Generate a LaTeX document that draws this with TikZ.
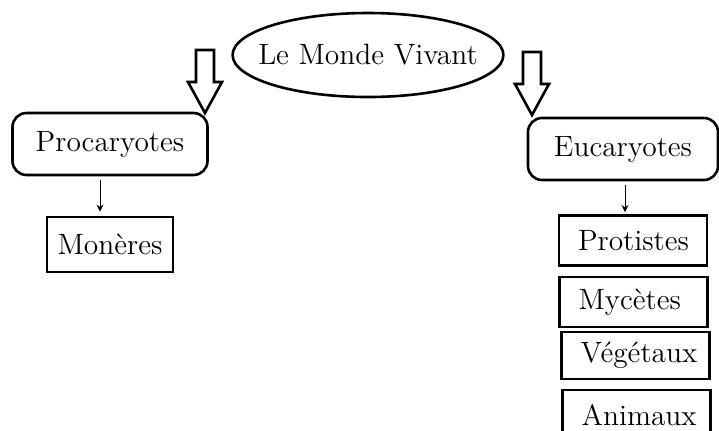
\documentclass[tikz,border=0pt]{standalone}
\usepackage{tikz}
\usetikzlibrary{positioning,arrows.meta,shapes.geometric}
\tikzset{
  txt/.style   ={font=\fontsize{14.7pt}{17pt}\selectfont},
  monde/.style ={ellipse, draw=black, line width=1.3pt, txt, inner xsep=-7pt, inner ysep=0pt,
                 minimum width=135pt, minimum height=42pt},
  domaine/.style={rectangle, rounded corners=7pt, draw=black, line width=1.3pt, txt,
                 minimum height=31pt},
  regne/.style ={rectangle, draw=black, line width=1.4pt, txt, align=left,
                 text width=55pt, inner xsep=9.5pt, minimum height=25pt},
  lnk/.style   ={-{Stealth[length=3.5pt,width=3.5pt]}, line width=0.45pt},
  pics/fleche/.style={code={
    \draw[line width=1.3pt, fill=white, line join=miter]
      (-9,-63) -- (9,-63) -- (9,-31) -- (17,-31) -- (0,0) -- (-17,-31) -- (-9,-31) -- cycle;
  }},
}

\begin{document}
\begin{tikzpicture}[x=0.5pt,y=-0.5pt]
  \clip (0,0) rectangle (719,430);
  \fill[white] (0,0) rectangle (719,430);

  % racine
  \node[monde] (vivant) at (368,55) {Le Monde Vivant};
  \pic at (205,113) {fleche};
  \pic at (532,115) {fleche};

  % les deux domaines
  \node[domaine, minimum width=97.5pt] (proc) at (110,144) {Procaryotes};
  \node[domaine, minimum width=95pt] (euc) at (623,149) {Eucaryotes};

  % procaryotes
  \node[rectangle, draw=black, line width=1.4pt, txt, minimum width=63pt,
        minimum height=27.5pt] (mon) at (110,244.5) {Monères};
  \draw[lnk] ([xshift=-5pt,yshift=-2pt]proc.south) -- ([xshift=-5pt,yshift=2pt]proc.south |- mon.north);

  % eucaryotes
  \node[regne] (prot) at (633,240.5) {Protistes};
  \node[regne] (myc)  at (633.5,302) {Mycètes};
  \node[regne, minimum height=23.5pt] (veg) at (635.5,355.5) {Végétaux};
  \node[regne] (ani)  at (636.5,415) {Animaux};
  \draw[lnk] ([xshift=1pt,yshift=-2pt]euc.south) -- ([xshift=1pt,yshift=1pt]euc.south |- prot.north);
\end{tikzpicture}
\end{document}
